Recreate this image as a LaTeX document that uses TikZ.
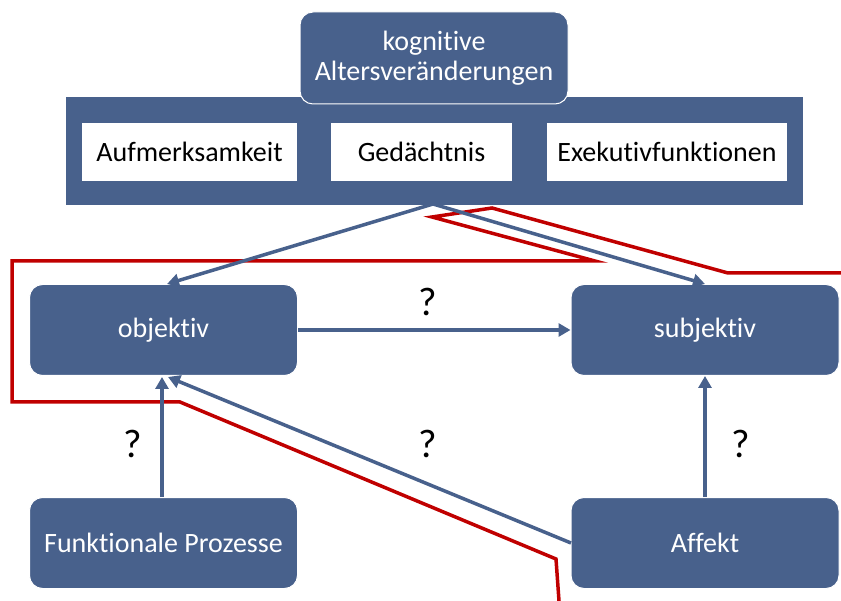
\documentclass[tikz,border=0pt]{standalone}
\usepackage{fontspec}
\setmainfont{Carlito}[RawFeature={-liga;-clig;-calt;-dlig}]
\usetikzlibrary{arrows.meta}
\definecolor{boxblue}{RGB}{72,97,140}
\definecolor{linered}{RGB}{192,0,0}
\tikzset{
  bluebox/.style={draw=white, line width=1pt, fill=boxblue, rounded corners=13pt,
    text=white, align=center, inner sep=0pt, font=\fontsize{28}{32}\selectfont},
  whitebox/.style={fill=white, inner sep=0pt, font=\fontsize{28}{32}\selectfont},
  link/.style={draw=boxblue, line width=3.5pt, -{Triangle[length=12pt,width=13pt]}},
  qmark/.style={font=\fontsize{40}{44}\selectfont, inner sep=0pt},
  redpath/.style={draw=linered, line width=3.5pt, line join=miter}
}
\begin{document}
\begin{tikzpicture}[x=1pt, y=-1pt]
  \useasboundingbox (0,0) rectangle (841,601);

  % band holding the three cognitive domains
  \node[fill=boxblue, minimum width=737pt, minimum height=108pt, inner sep=0pt,
        anchor=north west] (band) at (66,97) {};
  \node[whitebox, minimum width=215pt, minimum height=58pt] (aufm) at (189.5,152) {Aufmerksamkeit};
  \node[whitebox, minimum width=181pt, minimum height=58pt] (gedae) at (421.5,152) {Gedächtnis};
  \node[whitebox, minimum width=240pt, minimum height=58pt] (exek) at (667,152) {Exekutivfunktionen};

  % heading box
  \node[bluebox, minimum width=268pt, minimum height=92pt] (kogn) at (434,58)
    {kognitive\\[-2pt]Altersveränderungen};

  % outcome and predictor boxes
  \node[bluebox, minimum width=268pt, minimum height=91pt] (obj) at (163.5,330) {objektiv};
  \node[bluebox, minimum width=268pt, minimum height=91pt] (subj) at (705,330) {subjektiv};
  \node[bluebox, minimum width=268pt, minimum height=91pt] (funk) at (163.5,543) {Funktionale Prozesse};
  \node[bluebox, minimum width=268pt, minimum height=91pt] (aff) at (705,543) {Affekt};

  \coordinate (src) at (433,204);
  \coordinate (objtop) at (167,284);
  \coordinate (subjtop) at (705,284);
  \coordinate (objbot) at (168,377);
  \coordinate (affl) at (571,543);

  % red boundary line
  \draw[redpath] (559,601) -- (556,559) -- (180,402) -- (12,402) -- (12,261)
    -- (595,261) -- (432,217) -- (492,208) -- (728,273) -- (841,273);

  % connectors
  \draw[link] (src) -- (objtop);
  \draw[link] (src) -- (subjtop);
  \draw[link] (obj.east) -- (subj.west);
  \draw[link] (funk.north -| 162,0) -- (162,377);
  \draw[link] (aff.north) -- (subj.south);
  \draw[link] (affl) -- (objbot);

  % question marks
  \node[qmark] (q1) at (428,302) {?};
  \node[qmark] (q2) at (133,444) {?};
  \node[qmark] (q3) at (428,444) {?};
  \node[qmark] (q4) at (741,444) {?};
\end{tikzpicture}
\end{document}
